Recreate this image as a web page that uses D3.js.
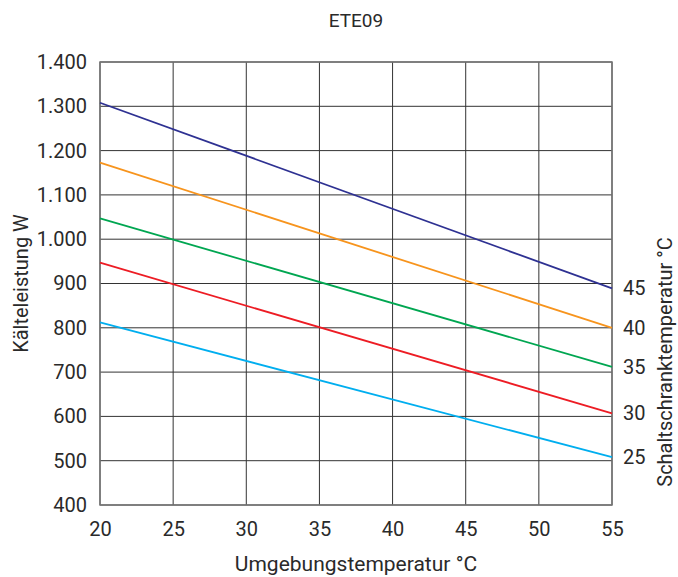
<!DOCTYPE html>
<html>
<head>
<meta charset="utf-8">
<script src="https://cdn.jsdelivr.net/npm/d3@7"></script>
<style>
  body { margin: 0; background: #fff; }
  text { font-family: Roboto, "DejaVu Sans", sans-serif; fill: #2a2a2a; }
</style>
</head>
<body>
<div id="container"></div>
<script>
// data
const ambientTemps = [20, 55];
const cabinetTemps = [45, 40, 35, 30, 25];
const seriesValues = [
    [1308, 889],
    [1173, 800],
    [1047, 712],
    [947, 607],
    [812, 508]
];
const seriesColors = ["#2e3192", "#f7941d", "#00a651", "#ed1c24", "#00aeef"];
const xTicks = [20, 25, 30, 35, 40, 45, 50, 55];
const yTicks = [400, 500, 600, 700, 800, 900, 1000, 1100, 1200, 1300, 1400];

const WIDTH = 678;
const HEIGHT = 577;
const margin = { top: 62, right: 66, bottom: 72, left: 100 };

const svg = d3.select("#container")
    .append("svg")
    .attr("width", WIDTH)
    .attr("height", HEIGHT);

const xScale = d3.scaleLinear()
    .domain([20, 55])
    .range([margin.left, WIDTH - margin.right]);

const yScale = d3.scaleLinear()
    .domain([400, 1400])
    .range([HEIGHT - margin.bottom, margin.top]);

const de = d3.formatLocale({ decimal: ",", thousands: ".", grouping: [3], currency: ["", "€"] });
const fmt = de.format(",d");

// grid
svg.append("g")
    .selectAll("line.v")
    .data(xTicks)
    .enter()
    .append("line")
    .attr("x1", (d) => xScale(d))
    .attr("x2", (d) => xScale(d))
    .attr("y1", yScale(400))
    .attr("y2", yScale(1400))
    .attr("stroke", "#333")
    .attr("stroke-width", 1);

svg.append("g")
    .selectAll("line.h")
    .data(yTicks)
    .enter()
    .append("line")
    .attr("x1", xScale(20))
    .attr("x2", xScale(55))
    .attr("y1", (d) => yScale(d))
    .attr("y2", (d) => yScale(d))
    .attr("stroke", "#333")
    .attr("stroke-width", 1);

// frame
svg.append("rect")
    .attr("x", xScale(20))
    .attr("y", yScale(1400))
    .attr("width", xScale(55) - xScale(20))
    .attr("height", yScale(400) - yScale(1400))
    .attr("fill", "none")
    .attr("stroke", "#777")
    .attr("stroke-width", 1.5);

// axes labels
const leftAxis = d3.axisLeft(yScale).tickValues(yTicks).tickFormat(fmt).tickSize(0).tickPadding(13);
const gl = svg.append("g").attr("transform", "translate(" + margin.left + ",0)").call(leftAxis);
gl.select(".domain").remove();
gl.selectAll("text").attr("font-size", 20).attr("font-family", "Roboto, sans-serif").attr("fill", "#2a2a2a");

const bottomAxis = d3.axisBottom(xScale).tickValues(xTicks).tickSize(0).tickPadding(17);
const gb = svg.append("g").attr("transform", "translate(0," + (HEIGHT - margin.bottom) + ")").call(bottomAxis);
gb.select(".domain").remove();
gb.selectAll("text").attr("font-size", 20).attr("font-family", "Roboto, sans-serif").attr("fill", "#2a2a2a");

// lines
const line = d3.line()
    .x((d, i) => xScale(ambientTemps[i]))
    .y((d) => yScale(d));

svg.selectAll("path.series")
    .data(seriesValues)
    .enter()
    .append("path")
    .attr("class", "series")
    .attr("d", line)
    .attr("fill", "none")
    .attr("stroke", (d, i) => seriesColors[i])
    .attr("stroke-width", 1.8);

// right side labels at line ends
svg.selectAll("text.cab")
    .data(cabinetTemps)
    .enter()
    .append("text")
    .attr("class", "cab")
    .attr("x", xScale(55) + 11)
    .attr("y", (d, i) => yScale(seriesValues[i][1]))
    .attr("dy", "0.35em")
    .attr("font-size", 20)
    .text((d) => d);

// titles
svg.append("text")
    .attr("x", (xScale(20) + xScale(55)) / 2)
    .attr("y", 27)
    .attr("text-anchor", "middle")
    .attr("font-size", 19)
    .text("ETE09");

svg.append("text")
    .attr("x", (xScale(20) + xScale(55)) / 2)
    .attr("y", 571)
    .attr("text-anchor", "middle")
    .attr("font-size", 21)
    .text("Umgebungstemperatur °C");

svg.append("text")
    .attr("transform", "translate(28," + ((yScale(400) + yScale(1400)) / 2) + ") rotate(-90)")
    .attr("text-anchor", "middle")
    .attr("font-size", 20)
    .text("Kälteleistung W");

svg.append("text")
    .attr("transform", "translate(672,362) rotate(-90)")
    .attr("text-anchor", "middle")
    .attr("font-size", 20)
    .text("Schaltschranktemperatur °C");
</script>
</body>
</html>
